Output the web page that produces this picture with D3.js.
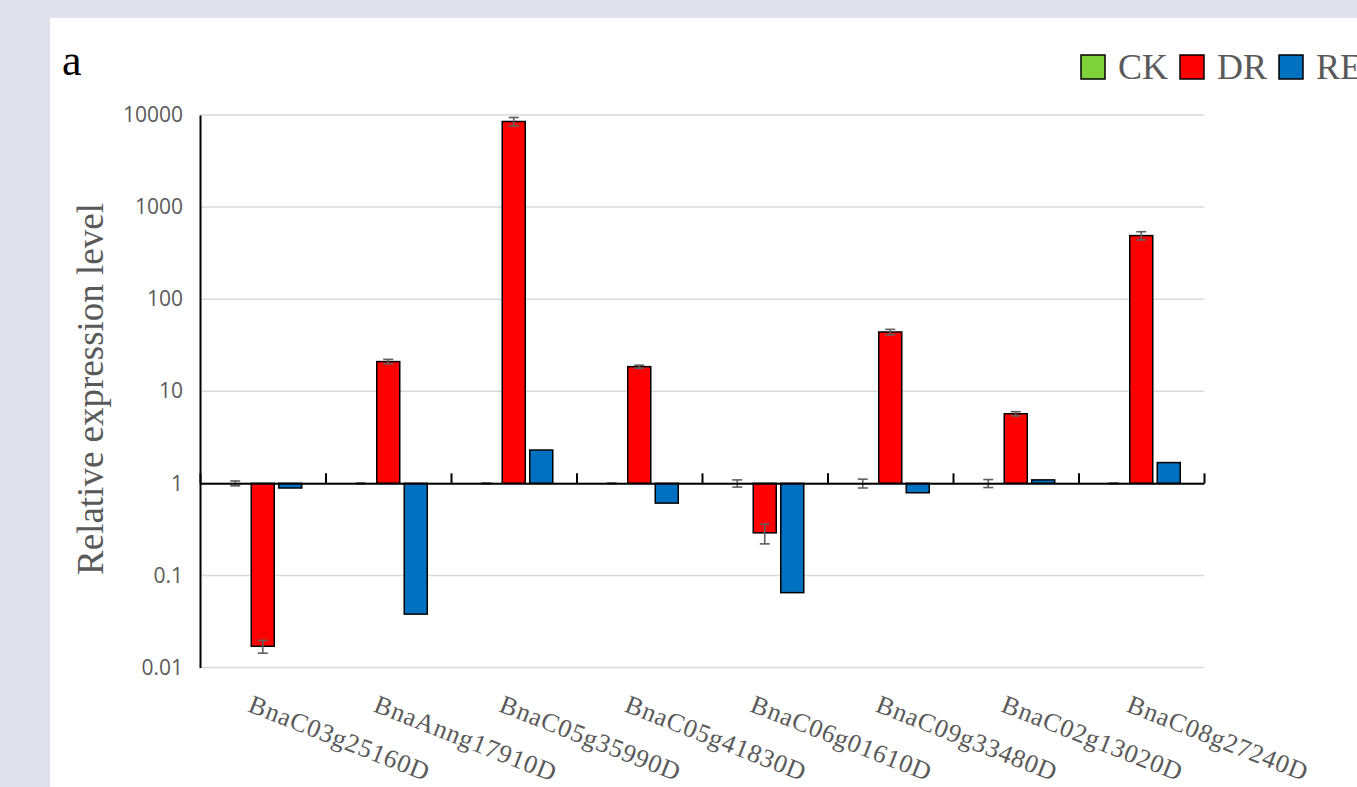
<!DOCTYPE html>
<html>
<head>
<meta charset="utf-8">
<script src="https://cdn.jsdelivr.net/npm/d3@7"></script>
<style>
  html, body { margin: 0; padding: 0; background: #dfe2ec; }
  svg { display: block; }
</style>
</head>
<body>
<svg id="chart" width="1357" height="787"></svg>
<script>
// ---- data ----
const genes = ["BnaC03g25160D", "BnaAnng17910D", "BnaC05g35990D", "BnaC05g41830D",
               "BnaC06g01610D", "BnaC09g33480D", "BnaC02g13020D", "BnaC08g27240D"];
const seriesNames = ["CK", "DR", "RE"];
const seriesColors = ["#7fd13b", "#ff0000", "#0070c0"];
const ckValues = [1, 1, 1, 1, 1, 1, 1, 1];
const ckErrors = [0.06, 0.01, 0.01, 0.01, 0.09, 0.11, 0.1, 0.01];
const drValues = [0.017, 21, 8500, 18.5, 0.29, 44, 5.7, 490];
const drErrors = [0.0027, 1.2, 900, 0.7, 0.07, 3, 0.3, 50];
const reValues = [0.89, 0.038, 2.3, 0.61, 0.065, 0.79, 1.09, 1.68];
const reErrors = [0, 0, 0, 0, 0, 0, 0, 0];
const yTicks = [0.01, 0.1, 1, 10, 100, 1000, 10000];
const yTickLabels = ["0.01", "0.1", "1", "10", "100", "1000", "10000"];

const seriesValues = [ckValues, drValues, reValues];
const seriesErrors = [ckErrors, drErrors, reErrors];

// ---- layout ----
const svg = d3.select("#chart");
const W = 1357, H = 787;
const plotLeft = 200, plotRight = 1204, plotTop = 115, plotBottom = 667.5;
const serif = "'Liberation Serif', 'Times New Roman', serif";
const sans = "'Open Sans', 'Liberation Sans', sans-serif";
const textGray = "#595959";

svg.append("rect").attr("x", 0).attr("y", 0).attr("width", W).attr("height", H).attr("fill", "#dfe2ec");
svg.append("rect").attr("x", 50).attr("y", 18).attr("width", W - 50).attr("height", H - 18).attr("fill", "#ffffff");

const y = d3.scaleLog().domain([0.01, 10000]).range([plotBottom, plotTop]);
const x0 = d3.scaleBand().domain(genes).range([plotLeft, plotRight]).padding(0);
const x1 = d3.scaleBand().domain(seriesNames).range([0, x0.bandwidth()])
  .paddingInner(1 - 23 / 27.5).paddingOuter(0.8636);
const xEdge = d3.scaleLinear().domain([0, genes.length]).range([plotLeft, plotRight]);

// gridlines
svg.append("g").selectAll("line").data(yTicks).join("line")
  .attr("x1", plotLeft).attr("x2", plotRight)
  .attr("y1", d => y(d)).attr("y2", d => y(d))
  .attr("stroke", "#d9d9d9").attr("stroke-width", 1.5);

// y axis
const yAxis = d3.axisLeft(y).tickValues(yTicks).tickSize(0).tickPadding(17)
  .tickFormat((d, i) => yTickLabels[i]);
const gy = svg.append("g").attr("transform", `translate(${plotLeft},0)`).call(yAxis);
gy.select(".domain").attr("stroke", "#000").attr("stroke-width", 2);
gy.selectAll("text").attr("font-family", sans).attr("font-size", 21).attr("fill", textGray);

// bars
const baseY = y(1);
const barData = [];
genes.forEach((g, gi) => {
  seriesNames.forEach((s, si) => {
    barData.push({ gene: g, series: s, si: si, value: seriesValues[si][gi], err: seriesErrors[si][gi] });
  });
});

svg.append("g").selectAll("rect").data(barData.filter(d => d.value !== 1)).join("rect")
  .attr("x", d => x0(d.gene) + x1(d.series))
  .attr("width", x1.bandwidth())
  .attr("y", d => Math.min(y(d.value), baseY))
  .attr("height", d => Math.abs(y(d.value) - baseY))
  .attr("fill", d => seriesColors[d.si])
  .attr("stroke", "#000").attr("stroke-width", 1.5);

// error bars
const errColor = "#5f5f5f";
const eg = svg.append("g").attr("stroke", errColor).attr("stroke-width", 1.6)
  .selectAll("g").data(barData.filter(d => d.err > 0)).join("g");
const cxOf = d => x0(d.gene) + x1(d.series) + x1.bandwidth() / 2;
eg.append("line").attr("x1", cxOf).attr("x2", cxOf)
  .attr("y1", d => y(d.value + d.err)).attr("y2", d => y(d.value - d.err));
eg.append("line").attr("x1", d => cxOf(d) - 5).attr("x2", d => cxOf(d) + 5)
  .attr("y1", d => y(d.value + d.err)).attr("y2", d => y(d.value + d.err));
eg.append("line").attr("x1", d => cxOf(d) - 5).attr("x2", d => cxOf(d) + 5)
  .attr("y1", d => y(d.value - d.err)).attr("y2", d => y(d.value - d.err));

// horizontal category axis at value 1
const xAxis = d3.axisTop(xEdge).tickValues(d3.range(0, genes.length + 1))
  .tickSize(10).tickSizeOuter(0).tickFormat("");
const gx = svg.append("g").attr("transform", `translate(0,${baseY})`).call(xAxis);
gx.select(".domain").attr("stroke", "#000").attr("stroke-width", 2);
gx.selectAll(".tick line").attr("stroke", "#000").attr("stroke-width", 2);

// category labels
svg.append("g").selectAll("text").data(genes).join("text")
  .attr("transform", d => `translate(${x0(d) + x0.bandwidth() / 2 - 16},711) rotate(21.5)`)
  .attr("text-anchor", "start")
  .attr("font-family", serif).attr("font-size", 26).attr("letter-spacing", 0.8).attr("fill", textGray)
  .text(d => d);

// y axis title
svg.append("text")
  .attr("transform", "translate(103,389) rotate(-90)")
  .attr("text-anchor", "middle")
  .attr("font-family", serif).attr("font-size", 37).attr("fill", textGray)
  .text("Relative expression level");

// panel label
svg.append("text").attr("x", 62).attr("y", 75)
  .attr("font-family", serif).attr("font-size", 44).attr("fill", "#000")
  .text("a");

// legend
const legend = svg.append("g");
let lx = 1081;
seriesNames.forEach((s, si) => {
  legend.append("rect").attr("x", lx).attr("y", 55).attr("width", 24).attr("height", 24)
    .attr("fill", seriesColors[si]).attr("stroke", "#000").attr("stroke-width", 1.5);
  legend.append("text").attr("x", lx + 37).attr("y", 79)
    .attr("font-family", serif).attr("font-size", 36).attr("fill", textGray).text(s);
  lx = lx + 99;
});
</script>
</body>
</html>
